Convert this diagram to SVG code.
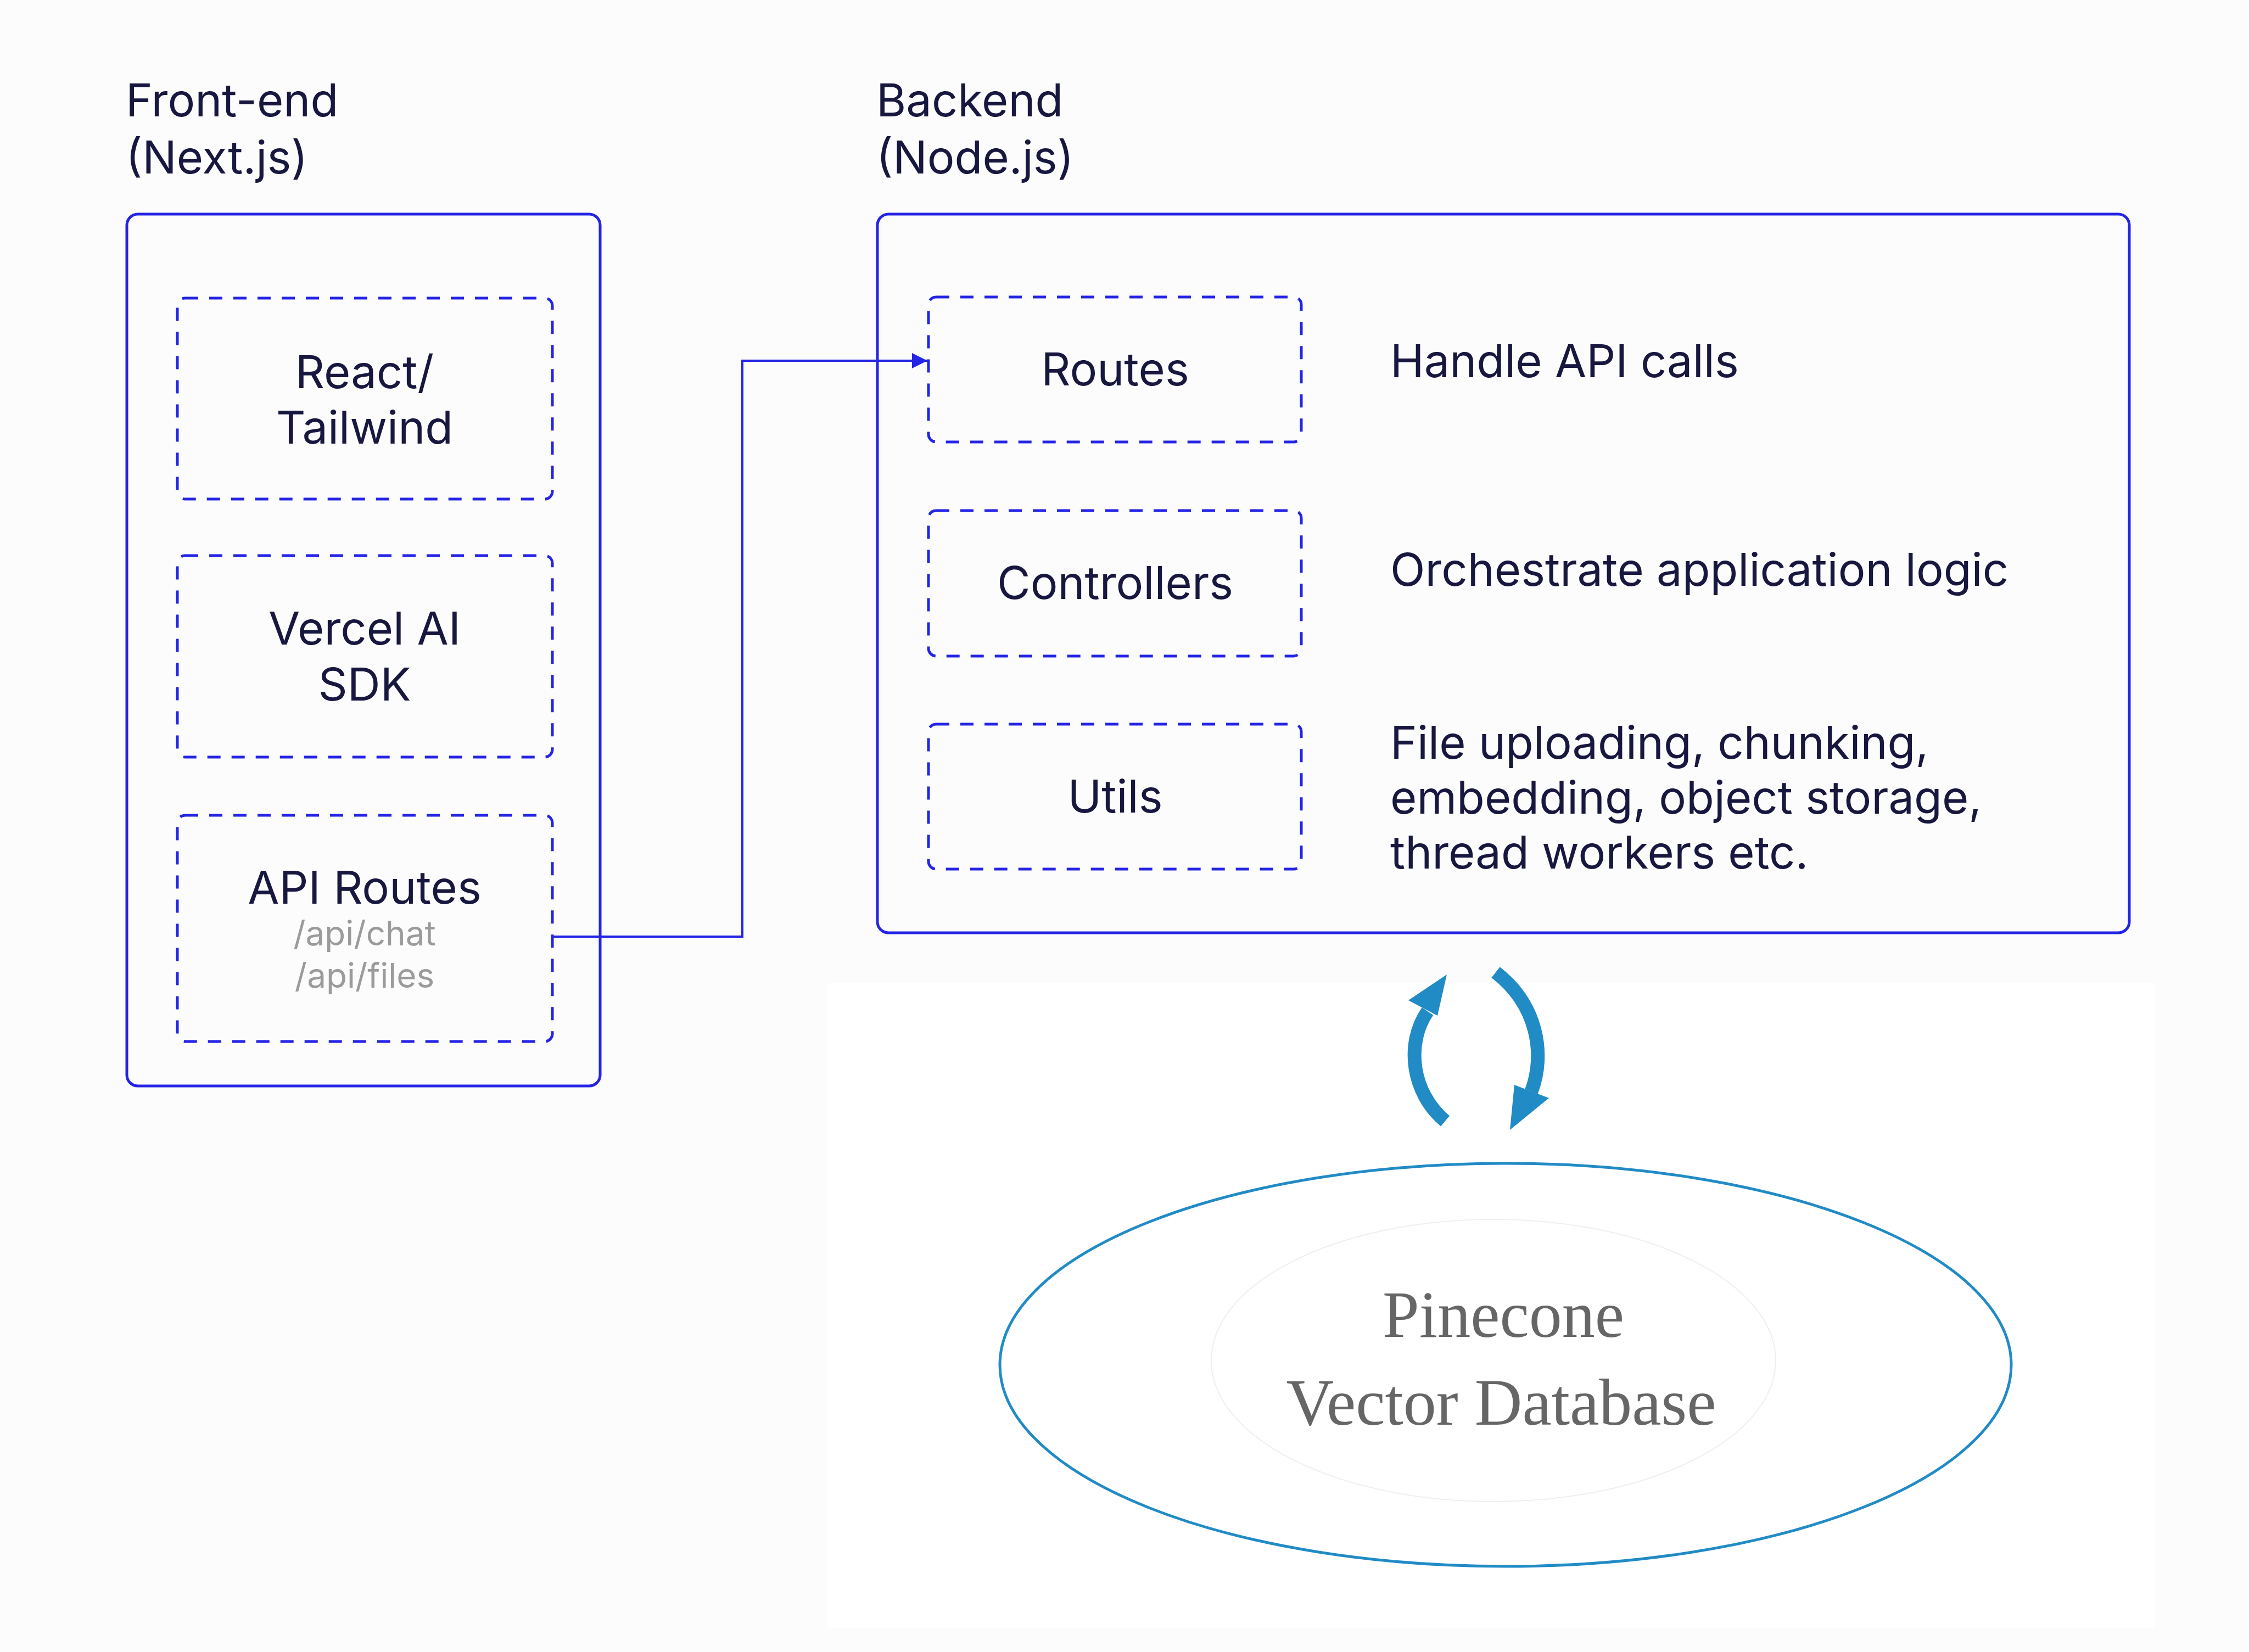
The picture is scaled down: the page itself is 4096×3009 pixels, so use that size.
<svg xmlns="http://www.w3.org/2000/svg" width="4096" height="3009" viewBox="0 0 4096 3009">
<defs>
<style>
.outer{fill:none;stroke:#2424e6;stroke-width:5}
.dash{fill:none;stroke:#2424e6;stroke-width:5;stroke-dasharray:24 20}
.t{font-family:Inter,"Liberation Sans",sans-serif;font-size:83px;fill:#17173f}
.c{text-anchor:middle}
.sub{font-family:Inter,"Liberation Sans",sans-serif;font-size:62px;fill:#9b9b9b;text-anchor:middle}
.db{font-family:"Liberation Serif",serif;font-size:120px;fill:#666666;text-anchor:middle}
.cyc{fill:#218bc6}
.shaft{fill:none;stroke:#218bc6;stroke-width:25}
</style>
<marker id="ah" viewBox="0 0 10 10" refX="10" refY="5" markerWidth="7" markerHeight="7" markerUnits="strokeWidth" orient="auto">
<path d="M0,0 L10,5 L0,10 z" fill="#2424e6"/>
</marker>
</defs>
<rect x="0" y="0" width="4096" height="3009" fill="#fcfcfc"/>
<rect x="1507" y="1790" width="2416" height="1175" fill="#ffffff"/>

<g id="frontend">
<text class="t" x="229" y="212">Front-end</text>
<text class="t" x="229" y="316">(Next.js)</text>
<rect class="outer" x="231" y="390" width="862" height="1588" rx="20"/>
</g>
<g id="react">
<rect class="dash" x="323" y="543" width="683" height="366" rx="14"/>
<text class="t c" x="664" y="707">React/</text>
<text class="t c" x="664" y="808">Tailwind</text>
</g>
<g id="vercel">
<rect class="dash" x="323" y="1012" width="683" height="367" rx="14"/>
<text class="t c" x="664" y="1174">Vercel AI</text>
<text class="t c" x="664" y="1276">SDK</text>
</g>
<g id="apiroutes">
<rect class="dash" x="323" y="1485" width="683" height="412" rx="14"/>
<text class="t c" x="664" y="1646">API Routes</text>
<text class="sub" x="664" y="1722">/api/chat</text>
<text class="sub" x="664" y="1799">/api/files</text>
</g>

<g id="backend">
<text class="t" x="1596" y="212">Backend</text>
<text class="t" x="1596" y="316">(Node.js)</text>
<rect class="outer" x="1598" y="390" width="2280" height="1309" rx="20"/>
</g>
<g id="routes">
<rect class="dash" x="1691" y="541" width="679" height="264" rx="14"/>
<text class="t c" x="2031" y="702">Routes</text>
</g>
<g id="controllers">
<rect class="dash" x="1691" y="930" width="679" height="265" rx="14"/>
<text class="t c" x="2031" y="1091">Controllers</text>
</g>
<g id="utils">
<rect class="dash" x="1691" y="1319" width="679" height="264" rx="14"/>
<text class="t c" x="2031" y="1480">Utils</text>
</g>
<g id="descriptions">
<text class="t" x="2532" y="687">Handle API calls</text>
<text class="t" x="2532" y="1067">Orchestrate application logic</text>
<text class="t" x="2532" y="1382">File uploading, chunking,</text>
<text class="t" x="2532" y="1482">embedding, object storage,</text>
<text class="t" x="2532" y="1582">thread workers etc.</text>
</g>

<g id="pinecone">
<ellipse cx="2742" cy="2486" rx="921" ry="367" fill="none" stroke="#218bc6" stroke-width="5"/>
<ellipse cx="2720" cy="2478" rx="514" ry="257" fill="none" stroke="#efefef" stroke-width="2"/>
<text class="db" x="2738" y="2435">Pinecone</text>
<text class="db" x="2734" y="2595">Vector Database</text>
</g>

<g id="connectors">
<polyline points="1006,1706 1352,1706 1352,657 1689,657" fill="none" stroke="#2424e6" stroke-width="4" marker-end="url(#ah)"/>
<path class="shaft" d="M2632,2042 C2570,1990 2560,1900 2600,1842"/>
<polygon class="cyc" points="2635,1775 2565,1822 2618,1850"/>
<path class="shaft" d="M2724,1771 C2800,1830 2815,1920 2789,1988"/>
<polygon class="cyc" points="2758,1976 2821,2000 2750,2058"/>
</g>
</svg>
